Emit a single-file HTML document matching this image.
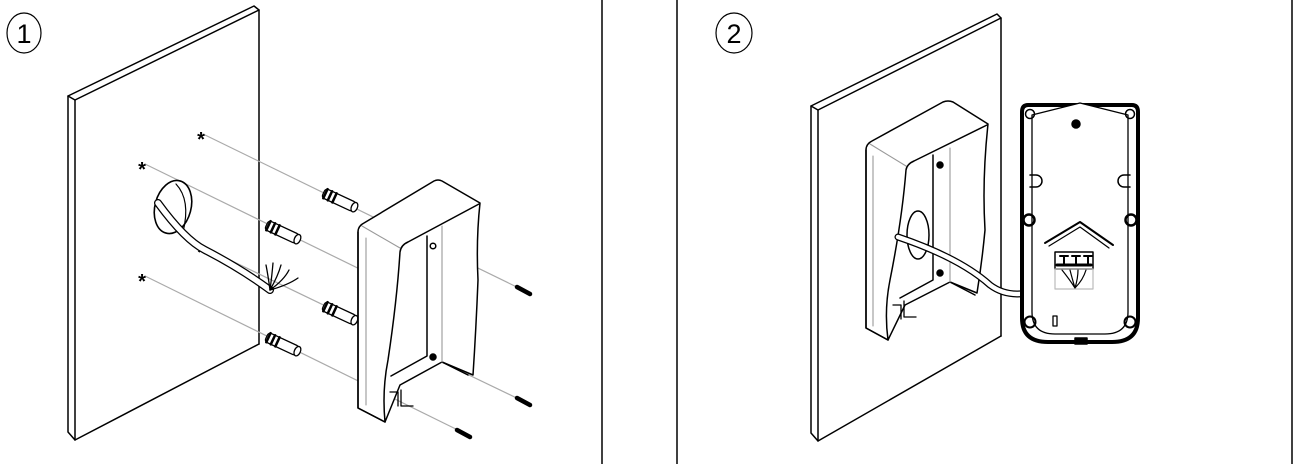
<!DOCTYPE html>
<html><head><meta charset="utf-8"><style>
html,body{margin:0;padding:0;background:#fff;width:1313px;height:464px;overflow:hidden}
svg{display:block}
</style></head><body>
<svg width="1313" height="464" viewBox="0 0 1313 464" xmlns="http://www.w3.org/2000/svg" fill="none" stroke="#000" stroke-linejoin="round" stroke-linecap="round">
<line x1="602" y1="0" x2="602" y2="464" stroke-width="1.5"/>
<line x1="677" y1="0" x2="677" y2="464" stroke-width="1.5"/>
<line x1="1292" y1="0" x2="1292" y2="464" stroke-width="1.5"/>

<ellipse cx="24" cy="33" rx="17" ry="20" stroke-width="1.2"/>
<text x="24" y="43" font-family="Liberation Sans, sans-serif" font-size="27" text-anchor="middle" fill="#000" stroke="none">1</text>
<ellipse cx="734" cy="33" rx="18" ry="20" stroke-width="1.2"/>
<text x="734" y="43" font-family="Liberation Sans, sans-serif" font-size="27" text-anchor="middle" fill="#000" stroke="none">2</text>

<!-- PANEL 1 wall -->
<g stroke-width="1.5">
<path d="M68,96 L254,6 L259,10 L75,100 Z"/>
<path d="M68,96 L68,432 L75,440 L75,100"/>
<line x1="259" y1="10" x2="259" y2="344"/>
<path d="M259,344 L75,440"/>
</g>
<g stroke="#aaa" stroke-width="1.2">
<line x1="203" y1="134" x2="527" y2="292"/>
<line x1="145" y1="164" x2="468" y2="322"/>
<line x1="203" y1="247" x2="527" y2="403"/>
<line x1="145" y1="276" x2="468" y2="435"/>
</g>
<g font-family="Liberation Sans, sans-serif" font-size="20" font-weight="bold" fill="#000" stroke="none" text-anchor="middle">
<text x="201" y="146">*</text><text x="142" y="176">*</text><text x="201" y="259">*</text><text x="142" y="288">*</text>
</g>
<ellipse cx="173" cy="207" rx="18" ry="27" transform="rotate(15 173 207)" stroke-width="1.6" fill="#fff"/>
<path d="M176,184 Q191,200 183,232" stroke-width="1.2"/>
<path d="M158,203 Q185,240 205,250 Q240,268 270,290" stroke-width="8" stroke="#000"/>
<path d="M158,203 Q185,240 205,250 Q240,268 270,290" stroke-width="5.5" stroke="#fff"/>
<g stroke-width="1.3"><path d="M270,290 Q268,275 266,265"/><path d="M270,290 Q272,275 273,263"/><path d="M270,290 Q278,276 281,265"/><path d="M270,290 Q284,280 289,270"/><path d="M270,290 Q288,285 298,278"/></g>
<g stroke-width="1.3" fill="#fff">
<g transform="rotate(25 339 200)"><rect x="322" y="195" width="34" height="10" rx="3"/><path d="M324,195 v10 M329,195 v10 M334,195 v10" stroke-width="2.5"/><ellipse cx="356" cy="200" rx="3" ry="5"/></g>
<g transform="rotate(25 282 232)"><rect x="265" y="227" width="34" height="10" rx="3"/><path d="M267,227 v10 M272,227 v10 M277,227 v10" stroke-width="2.5"/><ellipse cx="299" cy="232" rx="3" ry="5"/></g>
<g transform="rotate(25 339 313)"><rect x="322" y="308" width="34" height="10" rx="3"/><path d="M324,308 v10 M329,308 v10 M334,308 v10" stroke-width="2.5"/><ellipse cx="356" cy="313" rx="3" ry="5"/></g>
<g transform="rotate(25 282 344)"><rect x="265" y="339" width="34" height="10" rx="3"/><path d="M267,339 v10 M272,339 v10 M277,339 v10" stroke-width="2.5"/><ellipse cx="299" cy="344" rx="3" ry="5"/></g>
</g>
<g stroke-width="4.5">
<line x1="517" y1="287" x2="530" y2="294"/>
<line x1="458" y1="317" x2="471" y2="324"/>
<line x1="517" y1="398" x2="530" y2="405"/>
<line x1="457" y1="430" x2="470" y2="437"/>
</g>
<!-- housing panel1 -->
<g fill="#fff" stroke-width="1.5">
<path d="M358,232 Q358,226 364,223 L434,181 Q438,179 442,181 L480,203 Q476,240 478,280 Q476,330 473,375 L442,362 L400,385 L385,422 L358,408 Z"/>
</g>
<g stroke-width="1.5">
<path d="M358,232 L358,408 L385,422 Q382,390 388,360 Q397,300 400,252 Q401,245 408,242 L479,204"/>
<path d="M427,236 L427,356 L391,376"/>
<path d="M442,362 L468,375"/>
<circle cx="433" cy="246" r="2.8" fill="#fff"/>
<circle cx="433" cy="357" r="3" fill="#000"/>
<path d="M390,392 h8 v14 M401,390 v16 h12" stroke-width="1.3"/>
</g>
<g stroke="#999" stroke-width="1.1">
<path d="M362,226 L400,248"/>
<line x1="442" y1="226" x2="442" y2="362"/>
<line x1="366" y1="238" x2="366" y2="405"/>
</g>

<!-- PANEL 2 wall -->
<g stroke-width="1.5">
<path d="M811,106 L997,14 L1001,18 L818,110 Z"/>
<path d="M811,106 L811,433 L818,441 L818,110"/>
<line x1="1001" y1="18" x2="1001" y2="336"/>
<path d="M1001,336 L818,441"/>
</g>
<!-- housing panel2 -->
<g fill="#fff" stroke-width="1.5">
<path d="M866,150 Q866,144 872,141 L943,102 Q948,100 953,102 L988,124 Q982,180 985,230 Q982,262 977,293 L950,282 L905,305 L888,340 L866,328 Z"/>
</g>
<g stroke-width="1.5">
<path d="M866,150 L866,328 L888,340 Q884,310 890,280 Q902,220 906,170 Q907,164 914,161 L987,125"/>
<path d="M933,155 L933,280 L900,298"/>
<path d="M950,282 L975,295"/>
<circle cx="940" cy="165" r="3" fill="#000"/>
<circle cx="940" cy="273" r="3" fill="#000"/>
<path d="M893,305 h8 v14 M904,301 v16 h12" stroke-width="1.3"/>
</g>
<g stroke="#999" stroke-width="1.1">
<path d="M870,144 L906,166"/>
<line x1="950" y1="148" x2="950" y2="282"/>
<line x1="873" y1="156" x2="873" y2="326"/>
</g>
<ellipse cx="918" cy="235" rx="11" ry="24" stroke-width="1.5" fill="#fff"/>
<path d="M898,237 Q960,258 990,285 Q1010,300 1040,290 Q1065,285 1075,288" stroke-width="7"/>
<path d="M898,237 Q960,258 990,285 Q1010,300 1040,290 Q1065,285 1075,288" stroke-width="4.5" stroke="#fff"/>
<!-- plate -->
<g fill="#fff">
<path d="M1028,105 H1132 Q1138,105 1138,112 V318 Q1138,342 1112,342 H1048 Q1022,342 1022,318 V112 Q1022,105 1028,105 Z" stroke-width="4"/>
<path d="M1032,115 L1080,103 L1128,115 V312 Q1128,334 1105,334 H1055 Q1032,334 1032,312 Z" stroke-width="1.3"/>
</g>
<g stroke-width="1.5">
<circle cx="1030" cy="114" r="4.5"/><circle cx="1130" cy="114" r="4.5"/>
<circle cx="1029" cy="220" r="5.5" stroke-width="2.5"/><circle cx="1131" cy="220" r="5.5" stroke-width="2.5"/>
<circle cx="1030" cy="322" r="5.5" stroke-width="2"/><circle cx="1130" cy="322" r="5.5" stroke-width="2"/>
<circle cx="1076" cy="124" r="4" fill="#000"/>
<path d="M1030,175 h6 a6,6 0 0 1 0,12 h-6"/>
<path d="M1130,175 h-6 a6,6 0 0 0 0,12 h6"/>
<path d="M1045,243 L1080,222 L1113,245" stroke-width="2"/>
<path d="M1049,246 L1080,227 L1109,248" stroke-width="1.2"/>
<rect x="1055" y="252" width="38" height="17" stroke-width="1.5"/>
<path d="M1060,256 h8 M1064,256 v8 M1072,256 h8 M1076,256 v8 M1084,256 h8 M1088,256 v8" stroke-width="2"/>
<path d="M1057,265 h34" stroke-width="3"/>
<rect x="1055" y="269" width="38" height="20" stroke="#bbb" stroke-width="1.2"/>
<path d="M1075,288 Q1070,280 1062,270 M1075,288 Q1072,278 1070,270 M1075,288 Q1078,278 1078,270 M1075,288 Q1083,280 1086,270" stroke-width="1.2"/>
<rect x="1053" y="316" width="4" height="10" stroke-width="1.3"/>
<rect x="1075" y="338" width="12" height="6" fill="#000"/>
</g>
</svg>
</body></html>
